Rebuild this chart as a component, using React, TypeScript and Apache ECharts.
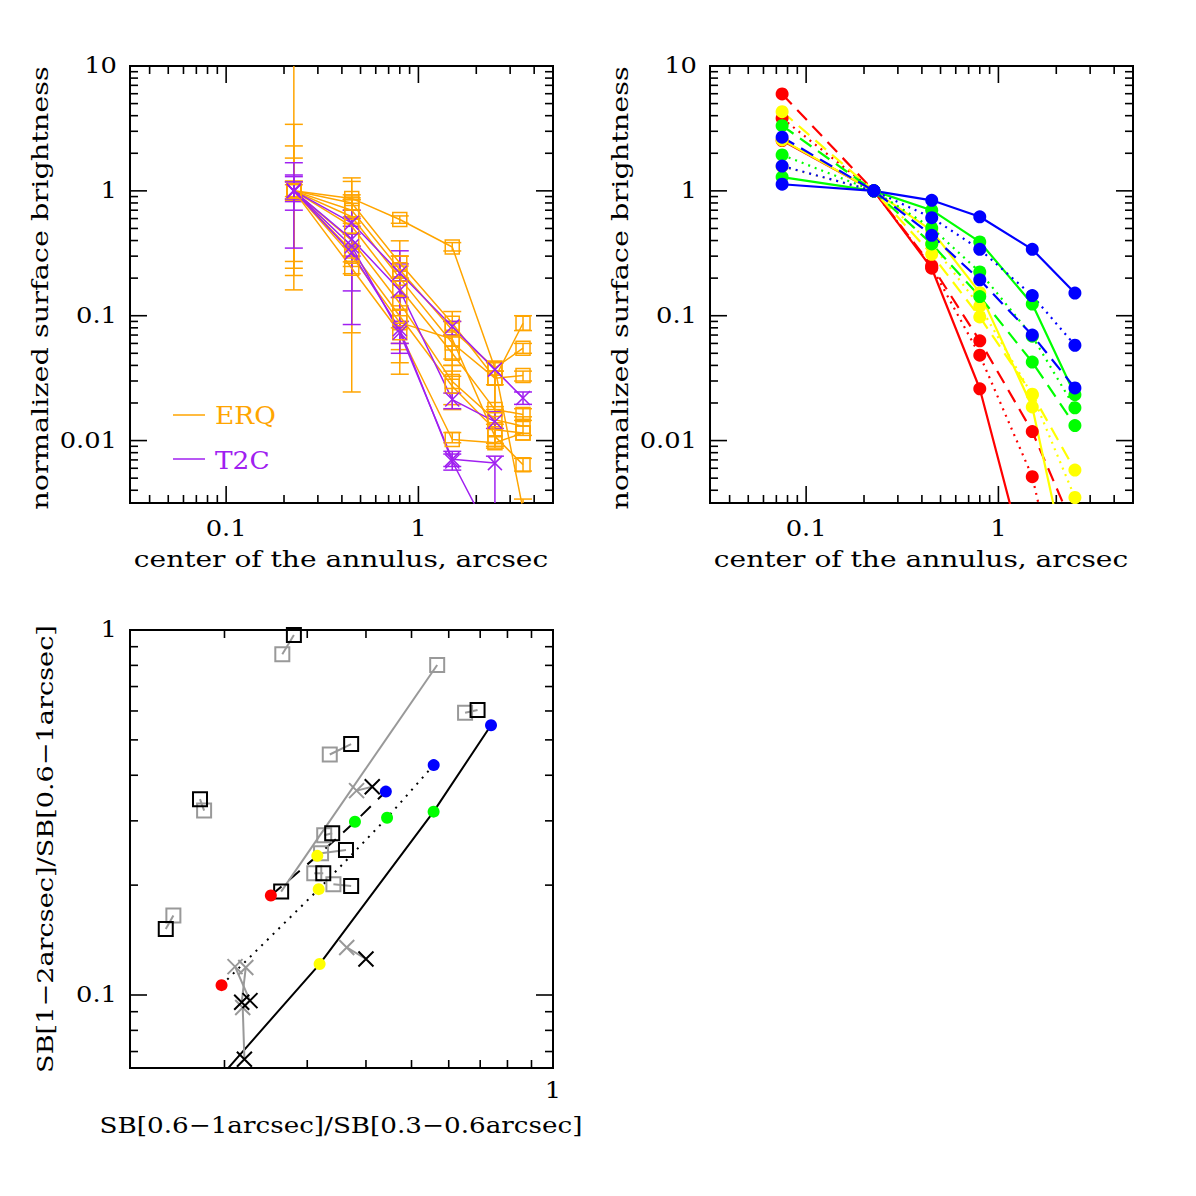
import React, { useEffect, useRef } from "react";
import * as echarts from "echarts";

const FONT = '"DejaVu Serif", "Liberation Serif", serif';

const ORANGE = "#FFA500";
const PURPLE = "#A020F0";
const GRAY = "#999999";
const RED = "#FF0000";
const YELLOW = "#FFFF00";
const GREEN = "#00FF00";
const BLUE = "#0000FF";

// Axis extents
const profileX = [Math.pow(10, -1.5), Math.pow(10, 0.7)];
const profileY = [Math.pow(10, -2.5), 10];
const ratioX = [Math.pow(10, -0.9), 1];
const ratioY = [Math.pow(10, -1.2), 1];

// Tick labels
const profileXLabels = ["0.1", "1"];
const profileYLabels = ["0.01", "0.1", "1", "10"];
const ratioXLabels = ["1"];
const ratioYLabels = ["0.1", "1"];

// ---- Observed profiles (top left) ----
const annulusRadii = [0.225, 0.45, 0.8, 1.5, 2.5, 3.5];

const erqProfiles = [
  [1, 0.87, 0.59, 0.355, 0.038, 0.0028],
  [1, 0.8, 0.264, 0.087, 0.0316, 0.087],
  [1, 0.7, 0.233, 0.077, 0.038, 0.055],
  [1, 0.62, 0.2, 0.0605, 0.0316, 0.0332],
  [1, 0.52, 0.166, 0.05, 0.0177, 0.0162],
  [1, 0.4, 0.126, 0.0297, 0.0147, 0.013],
  [1, 0.33, 0.099, 0.0272, 0.0122, 0.0115],
  [1, 0.3, 0.088, 0.065, 0.0108, 0.0064],
  [1, 0.24, 0.073, 0.0102, 0.0096, 0.0115],
];

const t2cProfiles = [
  [1, 0.555, 0.22, 0.082, 0.037, 0.0219],
  [1, 0.41, 0.16, 0.0213, 0.0142, null],
  [1, 0.36, 0.073, 0.0071, 0.0066, null],
  [1, 0.32, 0.078, 0.0068, 0.0015, null],
];

// error bars: [radius, low, high]
const erqErrorBars = [
  [0.225, 0.161, 20], [0.225, 0.21, 3.41], [0.225, 0.24, 2.29], [0.225, 0.272, 1.83],
  [0.225, 0.84, 1.2], [0.225, 0.86, 1.18], [0.225, 0.9, 1.12],
  [0.45, 0.0245, 1.27], [0.45, 0.073, 1.19], [0.45, 0.217, 0.93], [0.45, 0.248, 0.85],
  [0.45, 0.36, 0.62], [0.45, 0.55, 0.85], [0.45, 0.7, 0.88], [0.45, 0.27, 0.36],
  [0.8, 0.034, 0.398], [0.8, 0.042, 0.3], [0.8, 0.0535, 0.25], [0.8, 0.06, 0.12],
  [0.8, 0.08, 0.2], [0.8, 0.09, 0.14], [0.8, 0.2, 0.3], [0.8, 0.55, 0.63],
  [1.5, 0.0327, 0.108], [1.5, 0.04, 0.09], [1.5, 0.045, 0.07], [1.5, 0.0194, 0.04],
  [1.5, 0.0177, 0.036], [1.5, 0.0096, 0.0116], [1.5, 0.33, 0.385],
  [2.5, 0.0087, 0.042], [2.5, 0.0187, 0.036], [2.5, 0.009, 0.0177], [2.5, 0.0095, 0.0135],
  [2.5, 0.028, 0.036],
  [3.5, 0.076, 0.1], [3.5, 0.05, 0.06], [3.5, 0.03, 0.036], [3.5, 0.0145, 0.018],
  [3.5, 0.011, 0.0155], [3.5, 0.0057, 0.0072], [3.5, 0.002, 0.0034],
];

const t2cErrorBars = [
  [0.225, 0.348, 1.68], [0.225, 0.7, 1.34], [0.225, 0.82, 1.3], [0.225, 0.86, 1.18],
  [0.45, 0.158, 0.7], [0.45, 0.085, 0.6], [0.45, 0.3, 0.45], [0.45, 0.36, 0.52],
  [0.8, 0.05, 0.331], [0.8, 0.06, 0.09], [0.8, 0.14, 0.19], [0.8, 0.19, 0.26],
  [1.5, 0.07, 0.09], [1.5, 0.018, 0.024], [1.5, 0.0058, 0.0082], [1.5, 0.0062, 0.0078],
  [2.5, 0.001, 0.0075], [2.5, 0.0125, 0.017],
  [3.5, 0.0195, 0.0245],
];

// ---- Model profiles (top right) ----
const modelRadii = [0.075, 0.225, 0.45, 0.8, 1.5, 2.5];

const redSolid = [2.53, 1, 0.24, 0.026, 0.00065, 0.0001];
const redDotted = [3.81, 1, 0.245, 0.0483, 0.00514, 0.00017];
const redDashed = [5.97, 1, 0.251, 0.063, 0.0118, 0.0019];
const yellowSolid = [2.56, 1, 0.48, 0.153, 0.0186, 0.0005];
const yellowDotted = [1.57, 1, 0.375, 0.119, 0.0232, 0.0035];
const yellowDashed = [4.31, 1, 0.31, 0.0977, 0.0235, 0.0058];
const greenSolid = [1.29, 1, 0.7, 0.39, 0.124, 0.0233];
const greenDotted = [1.94, 1, 0.505, 0.224, 0.0685, 0.0183];
const greenDashed = [3.33, 1, 0.376, 0.1425, 0.0425, 0.0132];
const blueSolid = [1.13, 1, 0.84, 0.62, 0.34, 0.152];
const blueDotted = [1.58, 1, 0.61, 0.34, 0.145, 0.058];
const blueDashed = [2.69, 1, 0.44, 0.194, 0.07, 0.0264];

const DOTTED = [2, 5];
const DASHED = [14, 8];

const modelLines = [
  { color: RED, dash: "solid", values: redSolid },
  { color: RED, dash: DOTTED, values: redDotted },
  { color: RED, dash: DASHED, values: redDashed },
  { color: YELLOW, dash: "solid", values: yellowSolid },
  { color: YELLOW, dash: DOTTED, values: yellowDotted },
  { color: YELLOW, dash: DASHED, values: yellowDashed },
  { color: GREEN, dash: "solid", values: greenSolid },
  { color: GREEN, dash: DOTTED, values: greenDotted },
  { color: GREEN, dash: DASHED, values: greenDashed },
  { color: BLUE, dash: "solid", values: blueSolid },
  { color: BLUE, dash: DOTTED, values: blueDotted },
  { color: BLUE, dash: DASHED, values: blueDashed },
];

// ---- Ratio diagram (bottom) ----
// paired measurements [x, y]; black and grey entries share an index
const boxBlack = [
  [0.281, 0.969], [0.264, 0.192], [0.691, 0.604], [0.372, 0.487], [0.1774, 0.344],
  [0.339, 0.2773], [0.3627, 0.2495], [0.3245, 0.2155], [0.372, 0.199], [0.15, 0.1517],
];
const boxGray = [
  [0.2655, 0.858], [0.567, 0.802], [0.65, 0.593], [0.335, 0.456], [0.181, 0.32],
  [0.326, 0.274], [0.321, 0.2445], [0.3105, 0.2155], [0.341, 0.201], [0.1557, 0.165],
];
const crossBlack = [
  [0.4125, 0.372], [0.4, 0.1255], [0.2266, 0.0965], [0.2176, 0.0955], [0.2205, 0.0667],
];
const crossGray = [
  [0.382, 0.363], [0.364, 0.135], [0.2106, 0.1196], [0.222, 0.119], [0.2187, 0.0924],
];

// SB[0.6-1]/SB[0.3-0.6] and SB[1-2]/SB[0.6-1] of a model profile
const ratioPoint = (v: number[]) => [v[3] / v[2], v[4] / v[3]];

const ratioTracks = [
  { dash: "solid", members: [redSolid, yellowSolid, greenSolid, blueSolid] },
  { dash: [2, 6], members: [redDotted, yellowDotted, greenDotted, blueDotted] },
  { dash: [14, 10], members: [redDashed, yellowDashed, greenDashed, blueDashed] },
];
const ratioColors = [RED, YELLOW, GREEN, BLUE];

const CROSS = "path://M0 0L10 10M10 0L0 10";

function logTicks(min: number, max: number) {
  const out: { v: number; major: boolean }[] = [];
  for (let e = Math.floor(Math.log10(min)) - 1; e <= Math.ceil(Math.log10(max)); e++) {
    for (let m = 1; m <= 9; m++) {
      const v = m * Math.pow(10, e);
      if (v >= min * 0.9999 && v <= max * 1.0001) out.push({ v, major: m === 1 });
    }
  }
  return out;
}

function textStyle(text: string, size: number, fill: string, align: string) {
  return {
    text,
    fontSize: size,
    fontFamily: FONT,
    fill,
    align,
    verticalAlign: "middle",
    textAlign: align,
    textVerticalAlign: "middle",
  };
}

function frameSeries(gi: number, xr: number[], yr: number[], xLabels: string[], yLabels: string[], labelGap: number) {
  const items = [
    ...logTicks(xr[0], xr[1]).map((t) => ({ axis: "x", ...t })),
    ...logTicks(yr[0], yr[1]).map((t) => ({ axis: "y", ...t })),
  ];
  const xMid = Math.sqrt(xr[0] * xr[1]);
  const yMid = Math.sqrt(yr[0] * yr[1]);
  const findLabel = (list: string[], v: number) =>
    list.find((s) => Math.abs(Math.log10(parseFloat(s)) - Math.log10(v)) < 1e-6);
  return {
    type: "custom",
    xAxisIndex: gi,
    yAxisIndex: gi,
    silent: true,
    z: 20,
    data: items.map((t) => (t.axis === "x" ? [t.v, yMid] : [xMid, t.v])),
    renderItem: (params: any, api: any) => {
      const t = items[params.dataIndex];
      const cs = params.coordSys;
      const p = api.coord([api.value(0), api.value(1)]);
      const len = t.major ? 17 : 8;
      const st = { stroke: "#000", lineWidth: 1.6 };
      const children: any[] = [];
      if (t.axis === "x") {
        const x = p[0];
        const b = cs.y + cs.height;
        children.push({ type: "line", shape: { x1: x, y1: b, x2: x, y2: b - len }, style: st });
        children.push({ type: "line", shape: { x1: x, y1: cs.y, x2: x, y2: cs.y + len }, style: st });
        const lab = findLabel(xLabels, t.v);
        if (lab) {
          children.push({ type: "text", x, y: b + labelGap, scaleX: 1.12, style: textStyle(lab, 23, "#000", "center") });
        }
      } else {
        const y = p[1];
        const r = cs.x + cs.width;
        children.push({ type: "line", shape: { x1: cs.x, y1: y, x2: cs.x + len, y2: y }, style: st });
        children.push({ type: "line", shape: { x1: r, y1: y, x2: r - len, y2: y }, style: st });
        const lab = findLabel(yLabels, t.v);
        if (lab) {
          children.push({ type: "text", x: cs.x - 13, y: y - 1, scaleX: 1.12, style: textStyle(lab, 23, "#000", "right") });
        }
      }
      return { type: "group", children };
    },
  };
}

function errorBarSeries(bars: number[][], color: string) {
  return {
    type: "custom",
    xAxisIndex: 0,
    yAxisIndex: 0,
    clip: true,
    silent: true,
    z: 4,
    data: bars,
    encode: { x: 0, y: [1, 2] },
    renderItem: (params: any, api: any) => {
      const x = api.value(0);
      const lo = api.coord([x, api.value(1)]);
      const hi = api.coord([x, api.value(2)]);
      const hw = 9;
      const st = { stroke: color, lineWidth: 1.5 };
      return {
        type: "group",
        children: [
          { type: "line", shape: { x1: lo[0], y1: lo[1], x2: hi[0], y2: hi[1] }, style: st },
          { type: "line", shape: { x1: lo[0] - hw, y1: lo[1], x2: lo[0] + hw, y2: lo[1] }, style: st },
          { type: "line", shape: { x1: hi[0] - hw, y1: hi[1], x2: hi[0] + hw, y2: hi[1] }, style: st },
        ],
      };
    },
  };
}

function profileSeries(profile: (number | null)[], color: string, symbol: string) {
  const data: number[][] = [];
  profile.forEach((v, i) => {
    if (v !== null) data.push([annulusRadii[i], v]);
  });
  return {
    type: "line",
    xAxisIndex: 0,
    yAxisIndex: 0,
    data,
    symbol,
    symbolSize: 14,
    z: 5,
    lineStyle: { color, width: 1.5 },
    itemStyle: { color: "rgba(0,0,0,0)", borderColor: color, borderWidth: 1.5 },
  };
}

function buildOption() {
  const series: any[] = [];

  // top left: observed profiles
  erqProfiles.forEach((p) => series.push(profileSeries(p, ORANGE, "rect")));
  t2cProfiles.forEach((p) => series.push(profileSeries(p, PURPLE, CROSS)));
  series.push(errorBarSeries(erqErrorBars, ORANGE));
  series.push(errorBarSeries(t2cErrorBars, PURPLE));

  // top right: model profiles
  modelLines.forEach((m) => {
    series.push({
      type: "line",
      xAxisIndex: 1,
      yAxisIndex: 1,
      data: m.values.map((v, i) => [modelRadii[i], v]),
      symbol: "circle",
      symbolSize: 13,
      z: 5,
      lineStyle: { color: m.color, width: 2.2, type: m.dash, cap: "butt" },
      itemStyle: { color: m.color },
    });
  });

  // bottom: black model tracks
  ratioTracks.forEach((tr) => {
    series.push({
      type: "line",
      xAxisIndex: 2,
      yAxisIndex: 2,
      data: tr.members.map(ratioPoint),
      symbol: "none",
      z: 3,
      lineStyle: { color: "#000", width: 2, type: tr.dash, cap: "butt" },
    });
  });

  // bottom: grey links between paired measurements
  const pairs = [
    ...boxBlack.map((b, i) => [b, boxGray[i]]),
    ...crossBlack.map((b, i) => [b, crossGray[i]]),
  ];
  pairs.forEach((pr) => {
    series.push({
      type: "line",
      xAxisIndex: 2,
      yAxisIndex: 2,
      data: pr,
      symbol: "none",
      z: 4,
      lineStyle: { color: GRAY, width: 2 },
    });
  });

  const markerSeries = (data: number[][], symbol: string, color: string) => ({
    type: "scatter",
    xAxisIndex: 2,
    yAxisIndex: 2,
    data,
    symbol,
    symbolSize: symbol === "rect" ? 14 : 15,
    z: 5,
    itemStyle: { color: "rgba(0,0,0,0)", borderColor: color, borderWidth: 2, opacity: 1 },
  });
  series.push(markerSeries(boxGray, "rect", GRAY));
  series.push(markerSeries(boxBlack, "rect", "#000"));
  series.push(markerSeries(crossGray, CROSS, GRAY));
  series.push(markerSeries(crossBlack, CROSS, "#000"));

  // bottom: coloured model points
  ratioColors.forEach((c, ci) => {
    series.push({
      type: "scatter",
      xAxisIndex: 2,
      yAxisIndex: 2,
      data: ratioTracks.map((tr) => ratioPoint(tr.members[ci])),
      symbol: "circle",
      symbolSize: 12,
      z: 6,
      itemStyle: { color: c, opacity: 1 },
    });
  });

  series.push(frameSeries(0, profileX, profileY, profileXLabels, profileYLabels, 25));
  series.push(frameSeries(1, profileX, profileY, profileXLabels, profileYLabels, 25));
  series.push(frameSeries(2, ratioX, ratioY, ratioXLabels, ratioYLabels, 22));

  const gridBase = { show: true, borderColor: "#000", borderWidth: 2, backgroundColor: "rgba(0,0,0,0)" };
  const axis = (gi: number, r: number[]) => ({
    type: "log",
    logBase: 10,
    gridIndex: gi,
    min: r[0],
    max: r[1],
    show: false,
    splitLine: { show: false },
  });

  const title = (text: string, x: number, y: number, size: number, stretch: number, rotate = false) => ({
    type: "text",
    x,
    y,
    rotation: rotate ? Math.PI / 2 : 0,
    scaleX: stretch,
    silent: true,
    style: textStyle(text, size, "#000", "center"),
  });

  return {
    animation: false,
    backgroundColor: "#fff",
    grid: [
      { ...gridBase, left: 130, top: 66, width: 423, height: 437 },
      { ...gridBase, left: 710, top: 66, width: 423, height: 437 },
      { ...gridBase, left: 130, top: 630, width: 423, height: 438 },
    ],
    xAxis: [axis(0, profileX), axis(1, profileX), axis(2, ratioX)],
    yAxis: [axis(0, profileY), axis(1, profileY), axis(2, ratioY)],
    series,
    graphic: [
      title("center of the annulus, arcsec", 341, 559, 23, 1.22),
      title("normalized surface brightness", 40, 288, 23, 1.25, true),
      title("center of the annulus, arcsec", 921, 559, 23, 1.22),
      title("normalized surface brightness", 620, 288, 23, 1.25, true),
      title("SB[0.6\u22121arcsec]/SB[0.3\u22120.6arcsec]", 341, 1125, 23, 1.14),
      title("SB[1\u22122arcsec]/SB[0.6\u22121arcsec]", 45, 849, 23, 1.18, true),
      { type: "line", silent: true, shape: { x1: 173, y1: 415, x2: 205, y2: 415 }, style: { stroke: ORANGE, lineWidth: 1.5 } },
      { type: "text", x: 215, y: 416, scaleX: 1.1, silent: true, style: textStyle("ERQ", 24, ORANGE, "left") },
      { type: "line", silent: true, shape: { x1: 173, y1: 459, x2: 205, y2: 459 }, style: { stroke: PURPLE, lineWidth: 1.5 } },
      { type: "text", x: 215, y: 461, scaleX: 1.1, silent: true, style: textStyle("T2C", 24, PURPLE, "left") },
    ],
  };
}

export default function App() {
  const ref = useRef<HTMLDivElement>(null);
  useEffect(() => {
    if (!ref.current) return;
    const chart = echarts.init(ref.current, null, { renderer: "svg" });
    chart.setOption(buildOption() as any);
    return () => chart.dispose();
  }, []);
  return (
    <div
      ref={ref}
      style={{ position: "absolute", left: 0, top: 0, width: 1196, height: 1196, background: "#fff" }}
    />
  );
}
